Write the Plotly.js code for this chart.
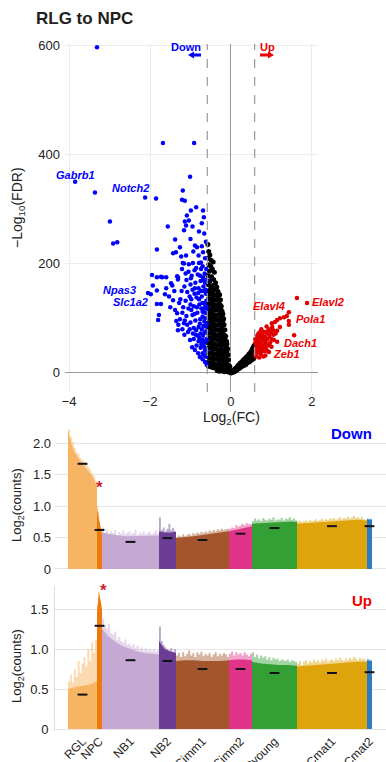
<!DOCTYPE html>
<html>
<head>
<meta charset="utf-8">
<script src="https://cdn.plot.ly/plotly-3.0.1.min.js"></script>
<style>html,body{margin:0;padding:0;background:#fff;}#chart{width:386px;height:762px;}</style>
</head>
<body>
<div id="chart"></div>
<script>
// ---------------- Volcano data (log2FC, -log10 FDR) ----------------
const downGenes = [
  [-3.31,596],[-1.68,421],[-0.91,421],[-3.85,350],[-3.36,330],[-2.12,321],[-1.85,319],[-1.01,359],[-1.19,334],
  [-1.21,317],[-1.14,315],[-2.99,277],[-2.91,237],[-2.81,239],[-0.86,303],[-0.99,297],[-0.69,297],[-1.09,288],
  [-0.67,285],[-1.14,277],[-1.04,279],[-0.72,274],[-1.11,270],[-1.56,268],[-1.16,261],[-0.79,259],[-1.38,244],
  [-1.83,226],[-0.89,233],[-0.84,230],[-0.72,232],[-1.43,219],[-1.36,221],[-1.23,213],[-1.11,215],[-0.69,221],
  [-0.74,202],[-1.16,200],[-1.04,199],[-0.94,201],[-0.79,201],[-1.19,201],[-1.21,190],[-0.74,190],
  [-1.95,179],[-1.70,175],[-1.60,175],[-1.31,175],[-0.99,173],[-0.69,175],[-1.83,175],[-1.73,176],[-1.33,177],
  [-1.48,164],[-1.31,171],[-1.93,160],[-1.83,151],[-2.05,146],[-1.98,144],[-1.63,144],[-1.53,140],[-1.43,133],
  [-1.83,126],[-1.73,126],[-1.78,106],[-1.80,97],[-1.28,128],[-1.33,109],[-1.26,98],[-1.31,78],[-1.16,91],
  [-1.06,75],[-1.01,60],[-0.96,47],[-0.89,42],[-0.81,36],[-0.77,29],[-0.70,25],[-0.64,20],[-0.60,15],
  [-1.12,182],[-1.05,185],[-0.90,188],[-0.82,180],[-0.65,182],[-0.60,170],[-0.75,168],[-0.88,165],[-1.00,162],
  [-1.15,158],[-1.22,150],[-1.08,148],[-0.95,152],[-0.80,155],[-0.68,158],[-0.62,145],[-0.72,140],[-0.85,138],
  [-0.98,135],[-1.12,132],[-1.18,120],[-1.05,118],[-0.92,122],[-0.78,125],[-0.66,128],[-0.60,118],[-0.70,112],
  [-0.83,110],[-0.95,106],[-1.10,104],[-1.20,110],[-1.00,92],[-0.88,96],[-0.76,98],[-0.64,100],[-0.60,90],
  [-0.68,86],[-0.80,84],[-0.92,82],[-1.02,80],[-0.87,70],[-0.75,72],[-0.65,74],[-0.60,62],[-0.70,60],
  [-0.80,58],[-0.92,62],[-0.85,50],[-0.75,46],[-0.66,48],[-0.60,40],[-0.70,36],[-0.62,30],[-0.66,55],
  [-0.72,80],[-0.63,110],[-0.74,150],[-0.90,145],[-1.00,125],[-1.25,135],[-1.40,150],[-1.50,120],[-1.38,115],
  [-1.45,160],[-1.60,155],[-1.10,170],[-0.97,178],[-0.86,192],[-0.70,195],[-0.64,210],[-0.80,215],[-0.93,222],
  [-0.62,240],[-0.66,255],[-1.00,245],[-0.95,268],[-1.26,230],[-0.61,132],[-0.67,118],[-0.79,135],[-0.84,120],
  [-0.90,108],[-0.70,103],[-0.77,90],[-0.63,85],[-0.69,68],[-0.74,58],[-0.82,68],[-0.94,72],[-1.08,88],
  [-1.14,96],[-1.30,88],[-1.20,80],[-1.15,70],[-1.35,95],[-0.98,115],[-1.02,140],[-0.89,155],[-0.76,178],
  [-0.71,128],[-0.64,165],[-0.61,190],[-0.67,150],[-0.62,58],[-0.64,42],[-0.68,33],[-0.73,52],[-0.78,64],
  [-0.86,78],[-0.61,76],[-0.66,94],[-0.73,118],[-0.81,146],[-0.69,170],[-0.63,124],[-0.62,152]
];
const upGenes = [
  [1.63,137],[1.88,128],[1.43,111],[1.38,104],[1.43,95],[1.31,102],[1.21,100],[1.14,97],[1.09,93],[1.01,91],
  [1.56,69],[1.43,88],[1.21,84],[1.14,77],[1.04,78],[0.96,80],[1.14,57],[0.94,38],
  [0.60,35],[0.62,45],[0.60,55],[0.64,60],[0.66,52],[0.68,40],[0.70,65],[0.72,55],[0.74,46],[0.76,70],
  [0.78,60],[0.80,50],[0.82,75],[0.84,65],[0.86,55],[0.88,72],[0.90,62],[0.92,50],[0.95,68],[0.98,74],
  [1.00,62],[0.62,30],[0.66,38],[0.70,45],[0.73,35],[0.77,42],[0.82,40],[0.86,44],[0.90,40],[1.05,70],
  [1.10,72],[1.06,60],[0.97,55],[0.80,30],[0.85,32],[0.70,28],[0.65,68],[0.75,80],[0.68,72],[0.60,62],
  [0.63,50],[0.88,85],[0.92,78],[1.00,48],[1.02,84],[0.83,58],[0.76,52],[0.72,75],[0.79,67],[0.61,42],
  [0.64,36],[0.67,58],[0.71,50],[0.75,38],[0.79,48],[0.84,48],[0.69,62],[0.73,66],[0.81,62]
];
const nsGenes = [
  [-0.57,235],[-0.55,222],[-0.52,216],[-0.56,210],[-0.49,206],[-0.44,203],[-0.55,198],[-0.50,195],[-0.46,190],
  [-0.53,186],[-0.41,184],[-0.57,178],[-0.48,176],[-0.43,171],[-0.52,168],[-0.38,165],[-0.56,162],[-0.46,160],
  [-0.35,157],[-0.50,155],[-0.41,152],[-0.55,150],[-0.32,149],[-0.45,147],
  [-0.57,145],[-0.52,144],[-0.47,146],[-0.42,143],[-0.37,142],[-0.32,141],[-0.28,143],
  [-0.55,136],[-0.50,135],[-0.45,137],[-0.40,134],[-0.35,133],[-0.30,132],[-0.26,134],
  [-0.57,127],[-0.52,126],[-0.47,128],[-0.42,125],[-0.37,124],[-0.32,123],[-0.27,125],[-0.24,122],
  [-0.55,118],[-0.50,117],[-0.45,119],[-0.40,116],[-0.35,115],[-0.30,114],[-0.25,116],[-0.22,113],
  [-0.57,109],[-0.52,108],[-0.47,110],[-0.42,107],[-0.37,106],[-0.32,105],[-0.27,107],[-0.22,104],[-0.20,108],
  [-0.55,100],[-0.50,99],[-0.45,101],[-0.40,98],[-0.35,97],[-0.30,96],[-0.25,98],[-0.20,95],[-0.18,99],
  [-0.57,91],[-0.52,90],[-0.47,92],[-0.42,89],[-0.37,88],[-0.32,87],[-0.27,89],[-0.22,86],[-0.17,88],
  [-0.55,82],[-0.50,81],[-0.45,83],[-0.40,80],[-0.35,79],[-0.30,78],[-0.25,80],[-0.20,77],[-0.15,79],
  [-0.57,73],[-0.52,72],[-0.47,74],[-0.42,71],[-0.37,70],[-0.32,69],[-0.27,71],[-0.22,68],[-0.17,70],[-0.13,67],
  [-0.55,64],[-0.50,63],[-0.45,65],[-0.40,62],[-0.35,61],[-0.30,60],[-0.25,62],[-0.20,59],[-0.15,61],[-0.11,58],
  [-0.57,55],[-0.52,54],[-0.47,56],[-0.42,53],[-0.37,52],[-0.32,51],[-0.27,53],[-0.22,50],[-0.17,52],[-0.12,49],[-0.10,53],
  [-0.55,46],[-0.50,45],[-0.45,47],[-0.40,44],[-0.35,43],[-0.30,42],[-0.25,44],[-0.20,41],[-0.15,43],[-0.10,40],[-0.08,44],
  [-0.57,37],[-0.52,36],[-0.47,38],[-0.42,35],[-0.37,34],[-0.32,33],[-0.27,35],[-0.22,32],[-0.17,34],[-0.12,31],[-0.07,33],
  [-0.55,28],[-0.50,27],[-0.45,29],[-0.40,26],[-0.35,25],[-0.30,24],[-0.25,26],[-0.20,23],[-0.15,25],[-0.10,22],[-0.06,24],
  [-0.57,19],[-0.52,18],[-0.47,20],[-0.42,17],[-0.37,16],[-0.32,15],[-0.27,17],[-0.22,14],[-0.17,16],[-0.12,13],[-0.07,15],[-0.03,12],
  [-0.56,12],[-0.50,11],[-0.45,10],[-0.40,9],[-0.35,10],[-0.30,8],[-0.25,9],[-0.20,7],[-0.15,8],[-0.10,6],[-0.05,7],[-0.02,5],
  [-0.34,4],[-0.28,3],[-0.22,4],[-0.17,2],[-0.12,3],[-0.08,2],[-0.04,1],[0.00,0],[0.02,1],
  [0.05,2],[0.05,4],[0.08,3],[0.08,6],[0.10,5],[0.11,8],[0.13,6],[0.14,10],[0.16,8],[0.17,13],[0.19,10],
  [0.20,15],[0.21,12],[0.23,18],[0.24,12],[0.25,15],[0.27,20],[0.28,14],[0.29,17],[0.30,23],[0.32,16],
  [0.33,20],[0.34,26],[0.35,18],[0.37,23],[0.38,29],[0.39,20],[0.40,26],[0.42,32],[0.43,22],[0.44,28],
  [0.45,35],[0.47,25],[0.48,31],[0.49,38],[0.50,27],[0.51,34],[0.52,42],[0.53,30],[0.54,37],[0.55,46],
  [0.56,33],[0.57,40],[0.57,50],[0.56,26],[0.52,24],[0.48,22],[0.45,20],[0.40,18],[0.36,15],[0.31,13],
  [0.26,11],[0.22,9],[0.18,7],[0.14,5],[0.10,3],[0.06,1],[0.30,19],[0.35,22],[0.46,30],[0.50,33],
  [0.55,40],[0.42,27],[0.37,26],[0.27,16],[0.22,14],[0.12,4],[0.53,44],[0.57,30],[0.49,27]
];

// ---------------- Per-cluster count data ----------------
const clusterNames = ['RGL','NPC','NB1','NB2','GCimm1','GCimm2','GCyoung','GCmat1','GCmat2'];
const cellCounts = [29,5,57,17,53,23,45,70,5];
const clusterColors = ['#f7b563','#ee7a0c','#c5a9d2','#6b3d95','#a5552b','#e2338b','#339f34','#dfa40b','#2b7cc0'];

const downBody = [
  [2.2,2.0,1.86,1.77,1.7,1.64,1.58,1.51,1.43,1.3],
  [0.95,0.8,0.64,0.55],
  [0.58,0.55,0.53,0.52,0.52,0.52,0.52,0.53],
  [0.6,0.58,0.58,0.59],
  [0.49,0.5,0.52,0.54,0.56,0.58,0.6],
  [0.6,0.63,0.66,0.68],
  [0.72,0.73,0.74,0.74,0.75,0.75],
  [0.72,0.73,0.74,0.75,0.76,0.77,0.78,0.77],
  [0.79,0.78]
];
const downSpike = [
  [2.22,2.1,2.02,1.92,1.85,1.82,1.76,1.73,1.7,1.66,1.62,1.58,1.52,1.48,1.4],
  [1.0,0.9,0.75,0.65,0.6],
  [0.66,0.58,0.63,0.55,0.6,0.57,0.62,0.54,0.59,0.56,0.61,0.55,0.58,0.6,0.55,0.57,0.62,0.54,0.58,0.56,0.6,0.55,0.57,0.59,0.55,0.58,0.61,0.56],
  [0.82,0.62,0.66,0.6,0.64,0.72,0.62,0.65,0.6],
  [0.5,0.53,0.51,0.55,0.52,0.54,0.56,0.53,0.57,0.55,0.58,0.56,0.59,0.57,0.6,0.58,0.61,0.59,0.62,0.6,0.63,0.61,0.64,0.62,0.63,0.64],
  [0.64,0.66,0.65,0.7,0.67,0.69,0.72,0.7,0.73,0.71,0.72],
  [0.76,0.8,0.77,0.79,0.76,0.81,0.78,0.77,0.8,0.78,0.82,0.77,0.79,0.78,0.81,0.77,0.8,0.79,0.82,0.78,0.8,0.77],
  [0.75,0.77,0.74,0.76,0.77,0.75,0.78,0.76,0.77,0.79,0.76,0.78,0.8,0.77,0.79,0.78,0.8,0.79,0.81,0.78,0.8,0.82,0.79,0.81,0.8,0.83,0.8,0.82,0.84,0.81,0.82,0.8,0.82,0.79,0.78],
  [0.8,0.79,0.8]
];
const downMedian = [1.67,0.62,0.43,0.49,0.46,0.56,0.65,0.68,0.68];

const upBody = [
  [0.5,0.52,0.53,0.54,0.55,0.57,0.6],
  [1.45,1.62,1.68,1.6,1.5],
  [1.25,1.15,1.08,1.03,1.0,0.97,0.95,0.94,0.93],
  [1.1,1.0,0.97,0.95],
  [0.85,0.86,0.86,0.85,0.85,0.85,0.86],
  [0.86,0.87,0.87,0.86],
  [0.84,0.82,0.81,0.8,0.8,0.79],
  [0.78,0.79,0.8,0.81,0.82,0.83,0.84,0.84],
  [0.86,0.85]
];
const upSpike = [
  [0.6,0.68,0.58,0.75,0.65,0.85,0.7,0.82,0.9,0.78,1.0,0.85,1.08,0.95,1.12],
  [1.55,1.72,1.7,1.6,1.5],
  [1.38,1.3,1.25,1.32,1.2,1.18,1.22,1.12,1.15,1.1,1.08,1.12,1.05,1.07,1.03,1.06,1.01,1.04,1.0,1.02,0.98,1.01,0.98,1.0,0.97,0.99,0.97,0.98],
  [1.28,1.1,1.05,1.02,1.0,0.98,1.01,0.97,1.0],
  [0.92,0.95,0.9,0.96,0.91,0.94,0.98,0.92,0.95,0.9,0.96,0.93,0.97,0.91,0.94,0.92,0.95,0.9,0.93,0.96,0.91,0.94,0.92,0.95,0.93,0.9],
  [0.94,0.97,0.92,0.96,0.93,0.95,0.92,0.96,0.93,0.91,0.94],
  [0.96,0.9,0.93,0.88,0.92,0.89,0.91,0.87,0.9,0.86,0.89,0.87,0.88,0.85,0.87,0.86,0.85,0.87,0.84,0.86,0.85,0.84],
  [0.82,0.85,0.8,0.84,0.86,0.82,0.85,0.83,0.87,0.84,0.86,0.83,0.87,0.85,0.88,0.84,0.86,0.87,0.85,0.88,0.86,0.89,0.87,0.85,0.88,0.86,0.89,0.87,0.9,0.88,0.86,0.89,0.87,0.88,0.86],
  [0.88,0.87,0.86]
];
const upMedian = [0.43,1.29,0.86,0.85,0.75,0.75,0.7,0.7,0.71];

const downLabels = ['Gabrb1','Notch2','Npas3','Slc1a2'];
const upLabels = ['Elavl4','Elavl2','Pola1','Dach1','Zeb1'];

// ---------------- Drawing ----------------
const W = 386, H = 762;
const FONT = 'Liberation Sans, Arial, Helvetica, sans-serif';
const PX = x => x / W;
const PY = y => 1 - y / H;
const BLUE = '#0000ff', RED = '#ee0000';

function rgba(hex, a) {
  const n = parseInt(hex.slice(1), 16);
  return `rgba(${(n >> 16) & 255},${(n >> 8) & 255},${n & 255},${a})`;
}

const traces = [];
traces.push({type:'scatter', mode:'markers', x:nsGenes.map(p=>p[0]), y:nsGenes.map(p=>p[1]),
  marker:{color:'#000', size:5}, xaxis:'x', yaxis:'y', hoverinfo:'skip'});
traces.push({type:'scatter', mode:'markers', x:downGenes.map(p=>p[0]), y:downGenes.map(p=>p[1]),
  marker:{color:BLUE, size:4.5}, xaxis:'x', yaxis:'y', hoverinfo:'skip'});
traces.push({type:'scatter', mode:'markers', x:upGenes.map(p=>p[0]), y:upGenes.map(p=>p[1]),
  marker:{color:'#e00000', size:4.5}, xaxis:'x', yaxis:'y', hoverinfo:'skip'});

const starts = [];
{ let s = 0; cellCounts.forEach(n => { starts.push(s); s += n; }); }
const centers = starts.map((s,k) => s + cellCounts[k]/2);

function panel(body, spike, med, xa, ya) {
  starts.forEach((s,k) => {
    const n = cellCounts[k];
    const sp = spike[k], m = sp.length;
    const sx = sp.map((_,i) => s + i*n/m); sx.push(s + n);
    const sy = sp.slice(); sy.push(sp[m-1]);
    traces.push({type:'scatter', mode:'lines', x:sx, y:sy, line:{shape:'hv', width:0, color:clusterColors[k]},
      fill:'tozeroy', fillcolor:rgba(clusterColors[k], k===0 ? 0.5 : 0.45), xaxis:xa, yaxis:ya, hoverinfo:'skip'});
    const b = body[k];
    const bx = b.map((_,i) => s + i*n/(b.length-1));
    traces.push({type:'scatter', mode:'lines', x:bx, y:b, line:{width:0, color:clusterColors[k]},
      fill:'tozeroy', fillcolor:clusterColors[k], xaxis:xa, yaxis:ya, hoverinfo:'skip'});
  });
  traces.push({type:'scatter', mode:'markers', x:centers, y:med, xaxis:xa, yaxis:ya, hoverinfo:'skip',
    marker:{symbol:'line-ew', size:7, color:'#111', line:{width:2, color:'#111'}}});
}
panel(downBody, downSpike, downMedian, 'x2', 'y2');
panel(upBody, upSpike, upMedian, 'x3', 'y3');

const txtAnn = (text, x, y, size, color, extra) => Object.assign({text, xref:'paper', yref:'paper', x:PX(x), y:PY(y),
  xanchor:'center', yanchor:'middle', showarrow:false, font:{family:FONT, size, color}}, extra || {});

const annotations = [
  txtAnn('−Log<sub>10</sub>(FDR)', 18, 208, 14, '#222', {textangle:-90}),
  txtAnn('Log<sub>2</sub>(FC)', 231, 418, 14, '#222'),
  txtAnn('Log<sub>2</sub>(counts)', 17, 505, 13, '#222', {textangle:-90}),
  txtAnn('Log<sub>2</sub>(counts)', 17, 666, 13, '#222', {textangle:-90}),
  txtAnn('<b>Down</b>', 186, 47, 11, BLUE),
  txtAnn('<b>Up</b>', 267, 47, 11, RED),
  txtAnn('<b><i>'+downLabels[0]+'</i></b>', 75, 175, 11, BLUE),
  txtAnn('<b><i>'+downLabels[1]+'</i></b>', 130, 188, 11, BLUE),
  txtAnn('<b><i>'+downLabels[2]+'</i></b>', 119, 290, 11, BLUE),
  txtAnn('<b><i>'+downLabels[3]+'</i></b>', 130, 302, 11, BLUE),
  txtAnn('<b><i>'+upLabels[0]+'</i></b>', 269, 306, 11, RED),
  txtAnn('<b><i>'+upLabels[1]+'</i></b>', 328, 302, 11, RED),
  txtAnn('<b><i>'+upLabels[2]+'</i></b>', 310, 319, 11, RED),
  txtAnn('<b><i>'+upLabels[3]+'</i></b>', 300, 343, 11, RED),
  txtAnn('<b><i>'+upLabels[4]+'</i></b>', 286, 354, 11, RED),
  txtAnn('<b>Down</b>', 351, 434, 15, BLUE),
  txtAnn('<b>Up</b>', 362, 600, 15, RED),
  txtAnn('<b>*</b>', 100, 487, 17, '#cc1f2f'),
  txtAnn('<b>*</b>', 103, 590, 17, '#cc1f2f')
];

const pp = (x, y) => `${PX(x)},${PY(y)}`;
const shapes = [-0.585, 0.585].map(v => ({type:'line', xref:'x', yref:'y domain', x0:v, x1:v, y0:0, y1:1,
  line:{color:'#9a9a9a', width:1.2, dash:'dash'}}));
// direction arrows under "Down" / "Up"
shapes.push({type:'line', xref:'paper', yref:'paper', x0:PX(192), x1:PX(201), y0:PY(55), y1:PY(55), line:{color:BLUE, width:3}});
shapes.push({type:'path', xref:'paper', yref:'paper', path:`M${pp(188,55)} L${pp(194,51.5)} L${pp(194,58.5)} Z`, fillcolor:BLUE, line:{width:0}});
shapes.push({type:'line', xref:'paper', yref:'paper', x0:PX(260), x1:PX(270), y0:PY(55), y1:PY(55), line:{color:RED, width:3}});
shapes.push({type:'path', xref:'paper', yref:'paper', path:`M${pp(274,55)} L${pp(268,51.5)} L${pp(268,58.5)} Z`, fillcolor:RED, line:{width:0}});

const tickFont = {family:FONT, size:13, color:'#222'};
const layout = {
  width:W, height:H, margin:{l:0, r:0, t:0, b:0}, autosize:false,
  paper_bgcolor:'#fff', plot_bgcolor:'#fff', showlegend:false,
  font:{family:FONT, color:'#222'},
  title:{text:'<b>RLG to NPC</b>', x:PX(36), xanchor:'left', y:PY(18), yanchor:'middle',
    font:{family:FONT, size:17, color:'#231f20'}},
  xaxis:{domain:[PX(65), PX(318)], range:[-4.1, 2.15], tickvals:[-4,-2,0,2], ticks:'', showgrid:true,
    gridcolor:'#ececec', zeroline:true, zerolinecolor:'#999', zerolinewidth:1, showline:false, tickfont:tickFont,
    anchor:'y', ticklabelstandoff:0},
  yaxis:{domain:[PY(392), PY(44)], range:[-35, 602], tickvals:[0,200,400,600], ticks:'', showgrid:true,
    gridcolor:'#ececec', zeroline:true, zerolinecolor:'#999', zerolinewidth:1, showline:false, tickfont:tickFont,
    anchor:'x', ticklabelstandoff:4},
  xaxis2:{domain:[PX(55), 1], range:[-13, 318], showgrid:false, zeroline:false, showticklabels:false, ticks:'', anchor:'y2'},
  yaxis2:{domain:[PY(571), PY(426)], range:[-0.032, 2.27], tickvals:[0,0.5,1,1.5,2], ticktext:['0','0.5','1.0','1.5','2.0'],
    ticks:'', showgrid:true, gridcolor:'#e6e6e6', zeroline:false, tickfont:tickFont, anchor:'x2', ticklabelstandoff:3},
  xaxis3:{domain:[PX(55), 1], range:[-13, 318], showgrid:false, zeroline:false, ticks:'', anchor:'y3',
    tickvals:centers, ticktext:clusterNames, tickangle:-45, tickfont:{family:FONT, size:12, color:'#222'}},
  yaxis3:{domain:[PY(731), PY(586)], range:[-0.025, 1.7875], tickvals:[0,0.5,1,1.5], ticktext:['0','0.5','1.0','1.5'],
    ticks:'', showgrid:true, gridcolor:'#e6e6e6', zeroline:false, showline:true, linecolor:'#dddddd', linewidth:1,
    tickfont:tickFont, anchor:'x3', ticklabelstandoff:3},
  annotations, shapes
};

Plotly.newPlot('chart', traces, layout, {staticPlot:true, displayModeBar:false});
</script>
</body>
</html>
